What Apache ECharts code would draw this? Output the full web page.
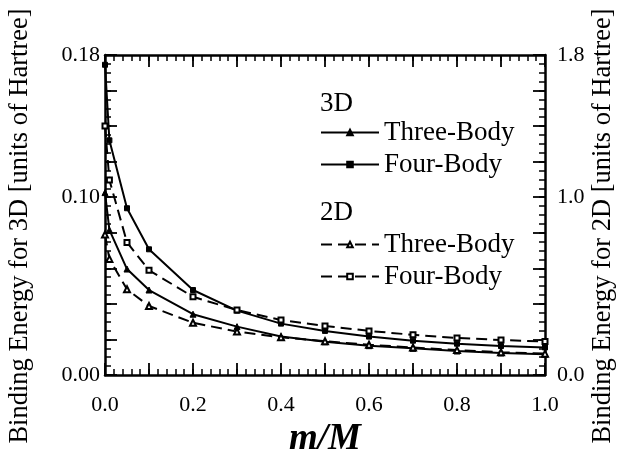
<!DOCTYPE html>
<html>
<head>
    <meta charset="utf-8">
    <script src="https://cdn.jsdelivr.net/npm/echarts@6/dist/echarts.min.js"></script>
</head>
<body style="margin:0; background:#fff">
    <div id="main" style="width: 620px; height: 453px"></div>
    <script type="text/javascript">
        // m/M values where the energies were computed
        var massRatio = [0, 0.01, 0.05, 0.1, 0.2, 0.3, 0.4, 0.5, 0.6, 0.7, 0.8, 0.9, 1.0];

        // 3D binding energies (left axis, Hartree)
        var threeBody3D = [0.1026, 0.0816, 0.0596, 0.0478, 0.0342, 0.0272, 0.0216, 0.0187, 0.0165, 0.0150, 0.0135, 0.0124, 0.0117];
        var fourBody3D = [0.1745, 0.1320, 0.0938, 0.0707, 0.0478, 0.0362, 0.0289, 0.0248, 0.0216, 0.0193, 0.0176, 0.0163, 0.0155];

        // 2D binding energies (right axis, Hartree)
        var threeBody2D = [0.790, 0.653, 0.482, 0.388, 0.294, 0.244, 0.212, 0.190, 0.170, 0.155, 0.140, 0.128, 0.120];
        var fourBody2D = [1.400, 1.097, 0.746, 0.589, 0.440, 0.365, 0.309, 0.276, 0.248, 0.226, 0.208, 0.197, 0.188];

        var font = 'Liberation Serif';

        function pairs(ys) {
            var out = [];
            for (var i = 0; i < massRatio.length; i++) {
                out.push([massRatio[i], ys[i]]);
            }
            return out;
        }

        function makeSeries(name, ys, yIndex, symbol, size, dashed) {
            return {
                name: name,
                type: 'line',
                xAxisIndex: 0,
                yAxisIndex: yIndex,
                data: pairs(ys),
                symbol: symbol,
                symbolSize: size,
                showAllSymbol: true,
                lineStyle: { color: '#000', width: 2, type: dashed ? [11, 6] : 'solid' },
                itemStyle: { color: '#000', borderColor: '#000', borderWidth: 1 }
            };
        }

        var hidden = { show: false };

        // major axis draws the frame line and long ticks; minor ones only short ticks
        function axis(pos, max, step, tickLen, label) {
            var major = tickLen > 8;
            return {
                type: 'value',
                position: pos,
                min: 0,
                max: max,
                interval: step,
                axisLine: major
                    ? { onZero: false, lineStyle: { color: '#000', width: 2.5 } }
                    : { show: false, onZero: false },
                axisTick: { show: true, inside: true, length: tickLen, lineStyle: { color: '#000', width: major ? 1.8 : 1.5 } },
                splitLine: hidden,
                axisLabel: label || hidden
            };
        }

        function labelFmt(step, every, digits, margin) {
            return {
                margin: margin,
                color: '#000',
                fontFamily: font,
                fontSize: 22,
                formatter: function (v) {
                    var r = Math.round(v / step);
                    return every.indexOf(r) >= 0 ? v.toFixed(digits) : '';
                }
            };
        }

        var legendText = { color: '#000', fontFamily: font, fontSize: 27 };
        var titleFont = '26.5px "Liberation Serif"';

        var xMain = axis('bottom', 1, 0.1, 12, labelFmt(0.1, [0, 2, 4, 6, 8, 10], 1, 19));
        xMain.name = 'm/M';
        xMain.nameLocation = 'middle';
        xMain.nameGap = 43;
        xMain.nameTextStyle = { color: '#000', fontFamily: font, fontSize: 37, fontStyle: 'italic', fontWeight: 'bold' };

        var option = {
            animation: false,
            backgroundColor: '#fff',
            grid: { left: 105, right: 75, top: 55, bottom: 78, outerBoundsMode: 'none' },
            xAxis: [
                xMain,
                axis('top', 1, 0.1, 12),
                axis('bottom', 1, 0.02, 6),
                axis('top', 1, 0.02, 6)
            ],
            yAxis: [
                axis('left', 0.18, 0.02, 12, labelFmt(0.02, [0, 5, 9], 2, 5)),
                axis('right', 1.8, 0.2, 12, labelFmt(0.2, [0, 5, 9], 1, 12)),
                axis('left', 0.18, 0.005, 6),
                axis('right', 1.8, 0.05, 6)
            ],
            legend: [
                {
                    data: ['3D Three-Body', '3D Four-Body'],
                    orient: 'vertical',
                    left: 320,
                    top: 119,
                    padding: 0,
                    itemWidth: 58,
                    itemHeight: 7,
                    itemGap: 5,
                    formatter: function (n) { return n.slice(3); },
                    textStyle: legendText
                },
                {
                    data: ['2D Three-Body', '2D Four-Body'],
                    orient: 'vertical',
                    left: 320,
                    top: 231,
                    padding: 0,
                    itemWidth: 58,
                    itemHeight: 7,
                    itemGap: 5,
                    formatter: function (n) { return n.slice(3); },
                    textStyle: legendText
                }
            ],
            graphic: [
                { type: 'text', left: 320, top: 90, style: { text: '3D', font: '27px "Liberation Serif"', fill: '#000' } },
                { type: 'text', left: 320, top: 199, style: { text: '2D', font: '27px "Liberation Serif"', fill: '#000' } },
                {
                    type: 'text', x: 20, y: 226, rotation: Math.PI / 2,
                    style: { text: 'Binding Energy for 3D [units of Hartree]', font: titleFont, fill: '#000', align: 'center', verticalAlign: 'middle' }
                },
                {
                    type: 'text', x: 603, y: 226, rotation: Math.PI / 2,
                    style: { text: 'Binding Energy for 2D [units of Hartree]', font: titleFont, fill: '#000', align: 'center', verticalAlign: 'middle' }
                }
            ],
            series: [
                makeSeries('3D Three-Body', threeBody3D, 0, 'triangle', 6, false),
                makeSeries('3D Four-Body', fourBody3D, 0, 'rect', 5, false),
                makeSeries('2D Three-Body', threeBody2D, 1, 'emptyTriangle', 6, true),
                makeSeries('2D Four-Body', fourBody2D, 1, 'emptyRect', 5, true)
            ]
        };

        var myChart = echarts.init(document.getElementById('main'));
        myChart.setOption(option);
    </script>
</body>
</html>
